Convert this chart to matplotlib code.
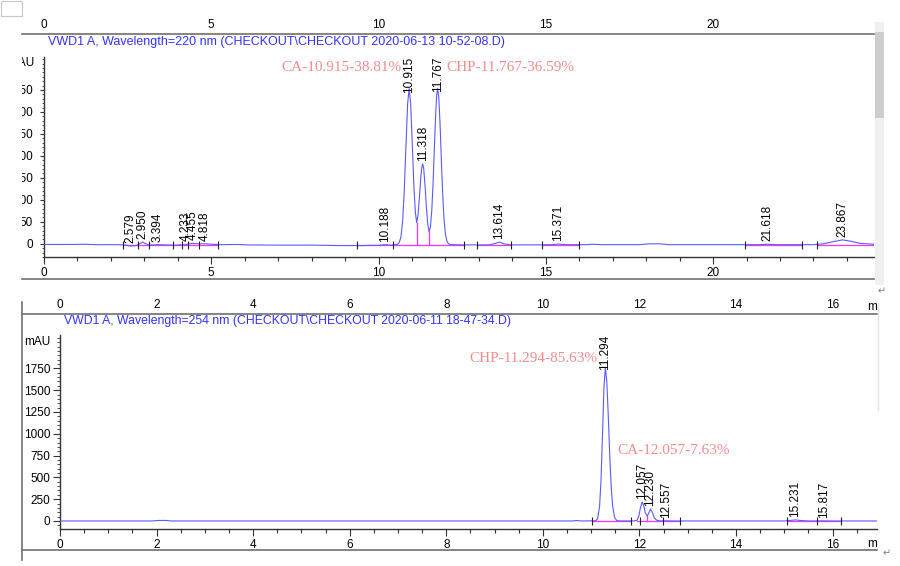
import numpy as np
import matplotlib
matplotlib.use("Agg")
import matplotlib.pyplot as plt
from matplotlib.patches import Rectangle
from matplotlib.lines import Line2D
from matplotlib.ticker import MultipleLocator
from matplotlib.transforms import Affine2D

plt.rcParams['font.family'] = ['Liberation Sans', 'DejaVu Sans']

"""# Data read off the two chromatograms"""

# upper run, 220 nm
top_title = "VWD1 A, Wavelength=220 nm (CHECKOUT\\CHECKOUT 2020-06-13 10-52-08.D)"
top_time = [0.0, 0.8, 1.2, 1.6, 2.2, 2.45, 2.58, 2.75, 2.88, 2.95, 3.02, 3.15, 3.4, 3.9,
            4.2, 4.35, 4.45, 4.6, 4.82, 5.0, 5.3, 5.8, 6.1, 7.0, 8.0, 8.8, 9.5, 10.0,
            10.19, 10.35, 10.5, 10.57, 10.62, 10.67, 10.72, 10.77, 10.82, 10.87, 10.915,
            10.96, 11.01, 11.06, 11.10, 11.14, 11.18, 11.22, 11.26, 11.29, 11.318, 11.35,
            11.39, 11.43, 11.47, 11.51, 11.55, 11.59, 11.63, 11.67, 11.71, 11.74, 11.767,
            11.80, 11.84, 11.88, 11.92, 11.96, 12.00, 12.05, 12.10, 12.2, 12.5, 13.3,
            13.5, 13.614, 13.75, 13.95, 14.5, 15.2, 15.371, 15.6, 16.2, 16.4, 16.7, 17.8,
            18.1, 18.4, 18.7, 21.4, 21.618, 21.9, 23.0, 23.3, 23.6, 23.867, 24.1, 24.4, 24.8]
top_signal = [-1.5, -1.5, -1, -2, -2, -3, -5, -4, 1, 4, 1, -3, -2, -3,
              -2, 0, 1, 0, 0, -1, -2, -1.5, -2.5, -3, -3, -4, -4, -3.5,
              -2, -3, -2, -1, 3, 16, 51, 122, 224, 319, 353,
              319, 225, 125, 72, 48, 66, 103, 148, 173, 182, 171,
              132, 84, 46, 27, 38, 74, 138, 220, 300, 340, 353,
              334, 270, 186, 108, 53, 22, 4.5, -0.5, -2, -2.5, -2.5,
              1, 4, 0, -2.5, -2.5, -2, -0.5, -2, -2, -1, -2, -2,
              0, 0, -2, -2, -1, -2, -2, 0, 5, 9, 6, 1, -1]
top_peaks = [2.579, 2.950, 3.394, 4.233, 4.455, 4.818, 10.188, 10.915, 11.318,
             11.767, 13.614, 15.371, 21.618, 23.867]
top_events = [2.35, 2.82, 3.15, 3.85, 4.12, 4.31, 4.64, 5.21, 9.37, 10.42, 12.56,
              12.95, 13.96, 14.9, 16.0, 20.96, 22.65, 23.1]
top_segments = [(2.35, 5.21), (9.37, 12.56), (12.95, 13.96), (14.9, 16.0),
                (20.96, 22.65), (23.1, 24.8)]
top_drops = [11.14, 11.51]
top_xticks = [0, 5, 10, 15, 20]

# lower run, 254 nm
bot_title = "VWD1 A, Wavelength=254 nm (CHECKOUT\\CHECKOUT 2020-06-11 18-47-34.D)"
bot_time = [0.0, 1.9, 2.05, 2.2, 2.3, 6.0, 10.6, 10.7, 10.8, 11.094, 11.134, 11.174,
            11.204, 11.234, 11.264, 11.294, 11.324, 11.354, 11.384, 11.414, 11.444,
            11.484, 11.524, 11.574, 11.65, 11.90, 11.95, 11.99, 12.02, 12.057, 12.09,
            12.12, 12.16, 12.19, 12.23, 12.27, 12.31, 12.36, 12.42, 12.557, 12.7, 15.0,
            15.15, 15.231, 15.35, 15.5, 15.817, 16.0, 16.92]
bot_signal = [0, 0, 6, 6, 0, 0, 0, 5, 0, 2, 26, 163,
              461, 970, 1517, 1760, 1605, 1219, 770, 405, 177,
              44, 8, 1, 0, 1, 8, 60, 150, 218, 175,
              95, 55, 85, 138, 95, 35, 8, 1, 2, 0, 0,
              8, 12, 5, 0, 1, 0, 0]
bot_peaks = [11.294, 12.057, 12.230, 12.557, 15.231, 15.817]
bot_events = [11.02, 11.82, 12.01, 12.48, 12.85, 15.06, 15.67, 16.17]
bot_segments = [(11.02, 11.82), (11.95, 12.85), (15.06, 16.17)]
bot_drops = [12.16]
bot_xticks = [0, 2, 4, 6, 8, 10, 12, 14, 16]

"""# Plotting"""

W, H = 900, 566
fig = plt.figure(figsize=(W / 100, H / 100), dpi=100)
pix = Affine2D().scale(1 / W, -1 / H).translate(0, 1) + fig.transFigure


def box(l, t, r, b):
    return [l / W, 1 - b / H, (r - l) / W, (b - t) / H]


TRACE = '#5a5aff'
BASE = '#ff30ff'
TITLE = '#3232ff'
NOTE = '#f58c8c'
AXC = '#333333'
FRAME = '#707070'


def draw_panel(ax, time, signal, peaks, events, segments, drops, base, xticks,
               xmax, ylim, xminor, ystep, yminor, ylen, ypad):
    ax.plot(time, signal, color=TRACE, lw=0.8, zorder=3)
    for a, b in segments:
        ax.plot([a, b], [base, base], color=BASE, lw=0.9, zorder=2)
    for t in drops:
        ax.plot([t, t], [base, np.interp(t, time, signal)], color=BASE, lw=0.9, zorder=2)
    ax.plot(events, [base] * len(events), ls='none', marker='|', ms=5.5, mew=0.8,
            color='#222222', zorder=4)

    ax.set_xlim(0, xmax)
    ax.set_ylim(*ylim)
    ax.patch.set_visible(False)
    for s in ['top', 'right']:
        ax.spines[s].set_visible(False)
    for s in ['left', 'bottom']:
        ax.spines[s].set_color(AXC)
        ax.spines[s].set_linewidth(1.0)
    ax.set_xticks(xticks)
    ax.xaxis.set_minor_locator(MultipleLocator(xminor))
    ax.set_yticks(np.arange(0, ylim[1] - ystep * 0.6, ystep))
    ax.yaxis.set_minor_locator(MultipleLocator(yminor))
    ax.tick_params(axis='x', which='major', length=5, width=0.8, pad=2.5,
                   labelsize=8.5, color=AXC)
    ax.tick_params(axis='x', which='minor', length=2.8, width=0.8, color=AXC)
    ax.tick_params(axis='y', which='major', length=ylen, width=0.8, pad=ypad,
                   labelsize=8.5, color=AXC)
    ax.tick_params(axis='y', which='minor', length=ylen * 0.5, width=0.6, color=AXC)

    labels = []
    for rt in peaks:
        y = np.interp(rt, time, signal)
        t = ax.annotate(f"{rt:.3f}", xy=(rt, y), xytext=(0, 3),
                        textcoords='offset pixels', rotation=90,
                        ha='center', va='bottom', fontsize=8.5, color='black',
                        zorder=5)
        labels.append(t)
    return labels


# upper panel
ax1 = fig.add_axes(box(44, 57, 874, 257))
lab1 = draw_panel(ax1, top_time, top_signal, top_peaks, top_events, top_segments,
                  top_drops, -2, top_xticks, 24.81, (-30, 425), 1, 50, 10, 3, 5)
sec1 = ax1.secondary_xaxis((257 - 34) / 200)
for s in sec1.spines.values():
    s.set_visible(False)
sec1.set_xticks(top_xticks)
sec1.tick_params(length=0, pad=2, labelsize=8.5)
fig.text(48 / W, 1 - 42 / H, top_title, color=TITLE, fontsize=9, va='center')
fig.text(34 / W, 1 - 63 / H, "mAU", fontsize=8.5, ha='right', va='center')
ax1.annotate("CA-10.915-38.81%", xy=(10.70, 402), ha='right', va='center',
             color=NOTE, fontsize=11, family=['Liberation Serif', 'DejaVu Serif'])
ax1.annotate("CHP-11.767-36.59%", xy=(12.02, 402), ha='left', va='center',
             color=NOTE, fontsize=11, family=['Liberation Serif', 'DejaVu Serif'])

# lower panel
ax2 = fig.add_axes(box(60, 335, 877, 529))
lab2 = draw_panel(ax2, bot_time, bot_signal, bot_peaks, bot_events, bot_segments,
                  bot_drops, 0, bot_xticks, 16.92, (-92, 2133), 0.5, 250, 50, 5, 2)
sec2 = ax2.secondary_xaxis((529 - 313.5) / (529 - 335))
for s in sec2.spines.values():
    s.set_visible(False)
sec2.set_xticks(bot_xticks)
sec2.tick_params(length=0, pad=2, labelsize=8.5)
fig.text(64 / W, 1 - 321 / H, bot_title, color=TITLE, fontsize=8.8, va='center')
fig.text(50 / W, 1 - 342 / H, "mAU", fontsize=8.5, ha='right', va='center')
ax2.annotate("CHP-11.294-85.63%", xy=(11.12, 1869), ha='right', va='center',
             color=NOTE, fontsize=11, family=['Liberation Serif', 'DejaVu Serif'])
ax2.annotate("CA-12.057-7.63%", xy=(11.55, 803), ha='left', va='center',
             color=NOTE, fontsize=11, family=['Liberation Serif', 'DejaVu Serif'])
fig.text(872 / W, 1 - 307 / H, "m", fontsize=8.5, ha='center', va='center')
fig.text(872 / W, 1 - 544 / H, "m", fontsize=8.5, ha='center', va='center')

# push peak labels down when they would run past the top of the plot
fig.canvas.draw()
for ax, labels in [(ax1, lab1), (ax2, lab2)]:
    top = ax.get_window_extent().y1
    for t in labels:
        bb = t.get_window_extent()
        if bb.y1 > top:
            t.xyann = (0, 3 - (bb.y1 - top))

# frame lines of the pasted screenshots
frame = [([22, 874], [34, 34]), ([22, 874], [278.5, 278.5]),
         ([22, 22], [302, 560]), ([22, 877], [313.5, 313.5]), ([22, 877], [550, 550])]
for xs, ys in frame:
    fig.add_artist(Line2D(xs, ys, transform=pix, color=FRAME, lw=1.2))
fig.add_artist(Line2D([878, 878], [303, 410], transform=pix, color='#e4e4e4', lw=1))

# left edge crop, small box and scrollbar
fig.add_artist(Rectangle((0, 40), 21.5, 236, transform=pix, facecolor='white',
                         edgecolor='none', zorder=10))
fig.add_artist(Rectangle((0.5, 0.5), 21, 15, transform=pix, facecolor='none',
                         edgecolor='#c8c8c8', lw=0.8, zorder=10))
fig.add_artist(Rectangle((875, 22), 9, 263, transform=pix, facecolor='#f0f0f0',
                         edgecolor='none', zorder=10))
fig.add_artist(Rectangle((875, 32), 9, 86, transform=pix, facecolor='#cdcdcd',
                         edgecolor='none', zorder=11))
fig.text(882 / W, 1 - 291 / H, "\u21b5", fontsize=7, color='#808080', ha='center', va='center')
fig.text(887 / W, 1 - 553 / H, "\u21b5", fontsize=7, color='#808080', ha='center', va='center')

fig.savefig("out.png", dpi=100)
